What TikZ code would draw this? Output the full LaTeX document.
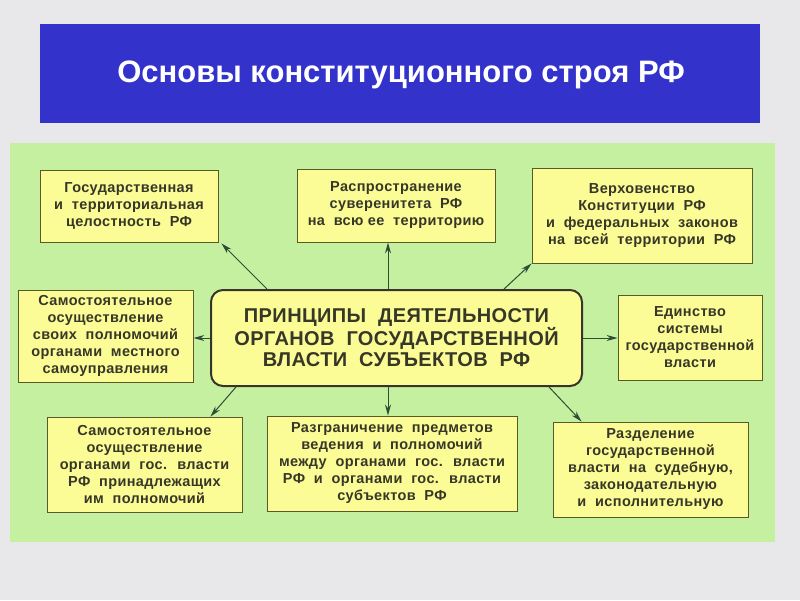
\documentclass[tikz,border=0pt]{standalone}
\usepackage{fontspec}
\setmainfont{Liberation Sans}
\usetikzlibrary{calc,arrows.meta}
\definecolor{bg}{RGB}{232,232,234}
\definecolor{banner}{RGB}{51,51,204}
\definecolor{panel}{RGB}{197,240,160}
\definecolor{boxfill}{RGB}{252,252,150}
\definecolor{boxline}{RGB}{90,90,40}
\definecolor{txt}{RGB}{55,55,40}
\definecolor{arrowc}{RGB}{50,75,55}
\tikzset{
  box/.style={draw=boxline, line width=0.9pt, fill=boxfill, align=center, inner sep=0pt,
    text=txt, font=\fontsize{14.5}{17}\selectfont\bfseries\addfontfeatures{LetterSpace=2.5}},
  centerbox/.style={draw=black!80!olive, line width=2pt, fill=boxfill, rounded corners=12pt,
    align=center, inner sep=0pt, text=txt, font=\fontsize{20}{21}\selectfont\bfseries\addfontfeatures{LetterSpace=2}},
  arr/.style={draw=arrowc, line width=1pt, -{Stealth[length=11pt,width=6pt]}}
}
\begin{document}
\begin{tikzpicture}[x=1pt,y=-1pt]
\useasboundingbox (0,0) rectangle (800,600);
\fill[bg] (0,0) rectangle (800,600);
\fill[banner] (40,24) rectangle (760,123);
\node[text=white, font=\fontsize{31}{33}\selectfont\bfseries] (title) at (401,75) {Основы конституционного строя РФ};
\fill[panel] (10,143) rectangle (775,542);

\node[centerbox, minimum width=371pt, minimum height=96pt] (C) at (396.5,338)
  {ПРИНЦИПЫ \ ДЕЯТЕЛЬНОСТИ\\ОРГАНОВ \ ГОСУДАРСТВЕННОЙ\\ВЛАСТИ \ СУБЪЕКТОВ \ РФ};

\node[box, minimum width=178pt, minimum height=72pt] (TL) at (129,206)
  {Государственная\\и \ территориальная\\целостность \ РФ};
\node[box, minimum width=198pt, minimum height=73pt] (TM) at (396,205.5)
  {Распространение\\суверенитета \ РФ\\на \ всю ее \ территорию};
\node[box, minimum width=220pt, minimum height=95pt] (TR) at (642,215.5)
  {Верховенство\\Конституции \ РФ\\и \ федеральных \ законов\\на \ всей \ территории \ РФ};
\node[box, minimum width=175pt, minimum height=92pt] (ML) at (105.5,336)
  {Самостоятельное\\осуществление\\своих \ полномочий\\органами \ местного\\самоуправления};
\node[box, minimum width=144pt, minimum height=85pt] (MR) at (690,337.5)
  {Единство\\системы\\государственной\\власти};
\node[box, minimum width=195pt, minimum height=95pt] (BL) at (144.5,464.5)
  {Самостоятельное\\осуществление\\органами \ гос. \ власти\\РФ \ принадлежащих\\им \ полномочий};
\node[box, minimum width=250pt, minimum height=95pt] (BM) at (392,463.5)
  {Разграничение \ предметов\\ведения \ и \ полномочий\\между \ органами \ гос. \ власти\\РФ \ и \ органами \ гос. \ власти\\субъектов \ РФ};
\node[box, minimum width=195pt, minimum height=95pt] (BR) at (650.5,469.5)
  {Разделение\\государственной\\власти \ на \ судебную,\\законодательную\\и \ исполнительную};

\draw[arr] ($(C.north west)+(57,0)$) -- ($(TL.south east)+(3,1)$);
\draw[arr] (C.north -| 388,0) -- (TM.south -| 388,0);
\draw[arr] ($(C.north east)+(-79,0)$) -- (TR.south west);
\draw[arr] (C.west) -- (ML.east |- C.west);
\draw[arr] (C.east) -- (MR.west |- C.east);
\draw[arr] ($(C.south west)+(26,0)$) -- ($(BL.north east)+(-32,0)$);
\draw[arr] (C.south -| 388,0) -- (BM.north -| 388,0);
\draw[arr] ($(C.south east)+(-34,0)$) -- ($(BR.north west)+(29,0)$);
\end{tikzpicture}
\end{document}
